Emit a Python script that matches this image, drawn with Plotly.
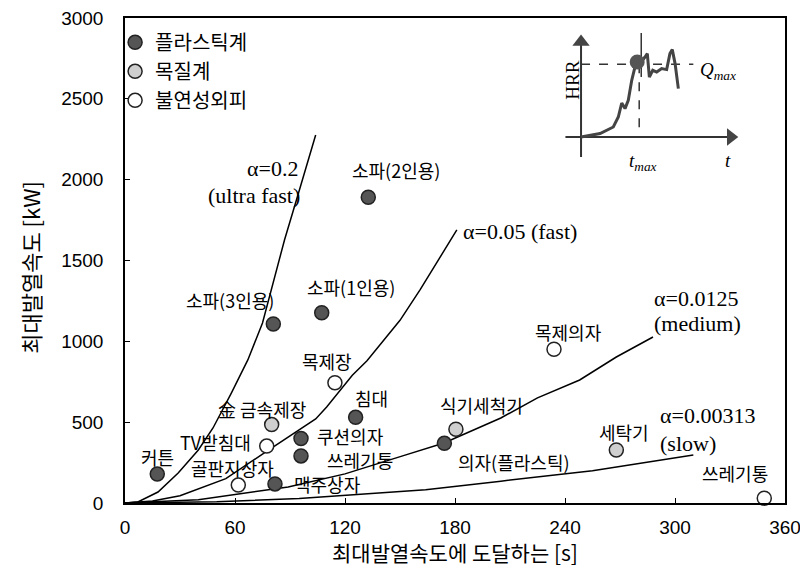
import plotly.graph_objects as go

# 플라스틱계 (dark filled)
plastic_names = ['커튼', '소파(2인용)', '소파(3인용)', '소파(1인용)', '침대',
                 '쿠션의자', '쓰레기통', '맥주상자', '의자(플라스틱)']
plastic_t = [17.6, 132.7, 80.9, 107.3, 125.8, 96, 96, 81.8, 174.2]
plastic_q = [179, 1891, 1107, 1177, 530, 399, 291, 118, 369]

# 목질계 (light gray)
wood_names = ['金 금속제장', '식기세척기', '세탁기']
wood_t = [80.0, 180.5, 268]
wood_q = [485, 456, 328]

# 불연성외피 (white)
noncomb_names = ['목제장', '목제의자', 'TV받침대', '골판지상자', '쓰레기통']
noncomb_t = [114.5, 234, 77.3, 61.8, 348.7]
noncomb_q = [744, 951, 352, 111, 30]

# t-squared growth curves
a02_t = [0, 7, 18, 29, 40, 48, 58, 67, 75, 81, 87, 94, 99, 104]
a02_q = [0, 6, 68, 186, 328, 464, 680, 885, 1113, 1367, 1627, 1893, 2078, 2276]
a005_t = [0, 15, 30, 55, 76, 104, 110, 124, 132, 150, 161, 172, 181]
a005_q = [0, 12, 45, 151, 310, 520, 594, 790, 880, 1130, 1320, 1520, 1689]
a0125_t = [0, 40, 89, 120, 151, 174, 205, 225, 248, 268, 288]
a0125_q = [0, 20, 99, 180, 290, 371, 526, 650, 761, 903, 1027]
a00313_t = [0, 50, 95, 150, 164, 205, 255, 310]
a00313_q = [0, 8, 28, 68, 82, 135, 200, 297]

# inset sketch (arbitrary units)
inset_u = [0, 12.2, 20.7, 23.9, 26.1, 28.2, 30.3, 32.5, 34.6, 37.8, 41, 42.5,
           43.8, 46, 48.5, 51.7, 54.9, 57, 58.5, 60.3, 62.4]
inset_v = [0, 3.4, 10, 20, 34, 28.4, 36.7, 56.7, 70, 73.4, 80, 83.4,
           60, 66.7, 65, 68.4, 67.4, 83.4, 87.4, 73.4, 48.4]
peak_u, peak_v = 36, 75
q_max, t_max = 72.7, 37.3

x_ticks = [0, 60, 120, 180, 240, 300, 360]
y_ticks = [0, 500, 1000, 1500, 2000, 2500, 3000]

KR = "Noto Sans CJK KR"
SERIF = "Liberation Serif"

# label offsets in px relative to each marker
plastic_shift = [(0, 17), (28, 27), (-43, 24), (29, 26), (16, 19),
                 (49, 2), (59, -4), (53, 0), (70, -19)]
wood_shift = [(-10, 16), (26, 24), (8, 18)]
noncomb_shift = [(-8, 22), (14, 17), (-51, 4), (-6, 17), (-29, 25)]

fig = go.Figure()

curve_line = dict(color='black', width=1.5)
for tt, qq in [(a02_t, a02_q), (a005_t, a005_q), (a0125_t, a0125_q), (a00313_t, a00313_q)]:
    fig.add_trace(go.Scatter(x=tt, y=qq, mode='lines', line=curve_line,
                             showlegend=False, hoverinfo='skip'))

groups = [
    ('플라스틱계', plastic_t, plastic_q, plastic_names, '#555555', plastic_shift),
    ('목질계', wood_t, wood_q, wood_names, '#cfcfcf', wood_shift),
    ('불연성외피', noncomb_t, noncomb_q, noncomb_names, 'white', noncomb_shift),
]
for name, tt, qq, labels, color, shifts in groups:
    fig.add_trace(go.Scatter(
        x=tt, y=qq, mode='markers', name=name, text=labels,
        marker=dict(size=14, color=color, line=dict(color='#222222', width=1.5)),
        cliponaxis=False))
    for t, q, lab, (dx, dy) in zip(tt, qq, labels, shifts):
        fig.add_annotation(x=t, y=q, text=lab, showarrow=False, xshift=dx, yshift=dy,
                           font=dict(family=KR, size=18, color='black'))

# curve labels
curve_labels = [
    ('α=0.2', 95.5, 2072, 'right'),
    ('(ultra fast)', 96.5, 1905, 'right'),
    ('α=0.05 (fast)', 183.3, 1682, 'left'),
    ('α=0.0125', 287.5, 1268, 'left'),
    ('(medium)', 287.5, 1113, 'left'),
    ('α=0.00313', 290.7, 544, 'left'),
    ('(slow)', 290.7, 371, 'left'),
]
for txt, x, y, anc in curve_labels:
    fig.add_annotation(x=x, y=y, text=txt, showarrow=False, xanchor=anc,
                       font=dict(family=SERIF, size=22, color='black'))

# inset
ins = dict(xaxis='x2', yaxis='y2', showlegend=False, hoverinfo='skip')
fig.add_trace(go.Scatter(x=[-10, 97], y=[0, 0], mode='lines',
                         line=dict(color='#333333', width=2), **ins))
fig.add_trace(go.Scatter(x=[0, 0], y=[-20, 97], mode='lines',
                         line=dict(color='#333333', width=2), **ins))
fig.add_trace(go.Scatter(x=[96], y=[0], mode='markers',
                         marker=dict(symbol='triangle-right', size=15, color='#444444'), **ins))
fig.add_trace(go.Scatter(x=[0], y=[95], mode='markers',
                         marker=dict(symbol='triangle-up', size=15, color='#444444'), **ins))
fig.add_trace(go.Scatter(x=[0, 72], y=[q_max, q_max], mode='lines',
                         line=dict(color='#333333', width=1.5, dash='dash'), **ins))
fig.add_trace(go.Scatter(x=[t_max, t_max], y=[q_max, 0], mode='lines',
                         line=dict(color='#333333', width=1.5, dash='dash'), **ins))
fig.add_trace(go.Scatter(x=[38.6, 38.6], y=[60, 104], mode='lines',
                         line=dict(color='#333333', width=1.5), **ins))
fig.add_trace(go.Scatter(x=inset_u, y=inset_v, mode='lines',
                         line=dict(color='#444444', width=3), **ins))
fig.add_trace(go.Scatter(x=[peak_u], y=[peak_v], mode='markers',
                         marker=dict(size=15, color='#555555'), **ins))
for txt, x, y, ang in [('HRR', -6, 57, -90), ('<i>Q<sub>max</sub></i>', 88, 66, 0),
                       ('<i>t<sub>max</sub></i>', 40, -25, 0), ('<i>t</i>', 94, -24, 0)]:
    fig.add_annotation(x=x, y=y, xref='x2', yref='y2', text=txt, showarrow=False,
                       textangle=ang, font=dict(family=SERIF, size=19, color='black'))

# axis titles as paper annotations so the plot frame stays put
fig.add_annotation(x=0.5, y=-0.1, xref='paper', yref='paper', showarrow=False,
                   xanchor='center', yanchor='middle',
                   text='최대발열속도에 도달하는 [s]',
                   font=dict(family=KR, size=21, color='black'))
fig.add_annotation(x=-0.144, y=0.487, xref='paper', yref='paper', showarrow=False,
                   xanchor='center', yanchor='middle',
                   text='최대발열속도 [kW]', textangle=-90,
                   font=dict(family=KR, size=22, color='black'))

axis_common = dict(showgrid=False, zeroline=False, showline=True, linecolor='black',
                   linewidth=1.5, mirror=True, ticks='inside', ticklen=5, automargin=False,
                   ticklabeloverflow='allow', tickcolor='black',
                   tickfont=dict(family='Liberation Sans', size=19, color='black'))

# page body has an 8px margin, so the figure is 8px smaller than the window
fig.update_layout(
    width=800, height=569,
    margin=dict(l=117, r=23, t=10, b=74),
    paper_bgcolor='white', plot_bgcolor='white',
    xaxis=dict(range=[0, 360], tickvals=x_ticks, ticklabelstandoff=6, **axis_common),
    yaxis=dict(range=[0, 3000], tickvals=y_ticks, ticklabelstandoff=16, **axis_common),
    xaxis2=dict(domain=[0.6626, 0.9320], range=[-12, 102], visible=False, anchor='y2'),
    yaxis2=dict(domain=[0.6887, 0.9711], range=[-32, 105], visible=False, anchor='x2'),
    legend=dict(x=-0.015, y=0.99, xanchor='left', yanchor='top', bgcolor='rgba(0,0,0,0)',
                font=dict(family=KR, size=20, color='black'), tracegroupgap=0),
)

fig.write_html("out.html")
